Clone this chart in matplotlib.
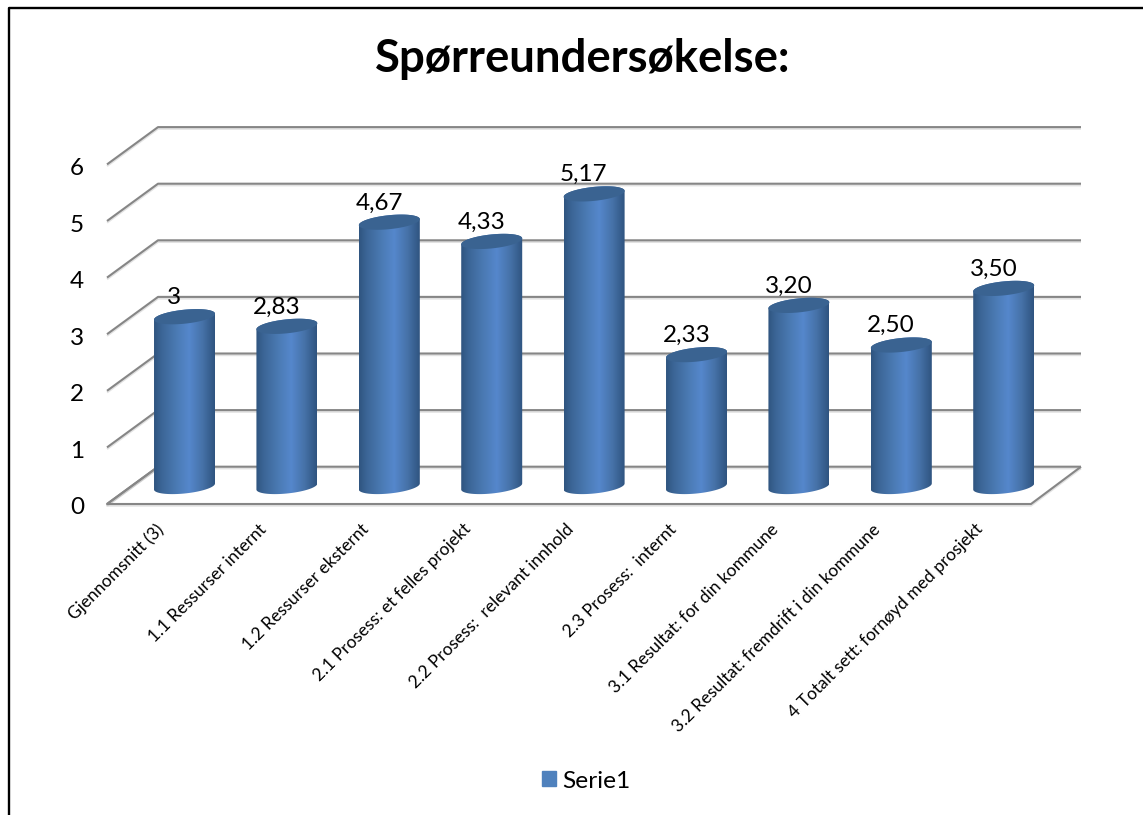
import matplotlib
matplotlib.use("Agg")
import matplotlib.pyplot as plt
import matplotlib.patheffects as pe
import numpy as np
from matplotlib.colors import LinearSegmentedColormap
from matplotlib.patches import Patch, PathPatch
from matplotlib.path import Path

plt.rcParams['font.family'] = ['Lato', 'DejaVu Sans']

# Data
categories = ['Gjennomsnitt (3)', '1.1 Ressurser internt', '1.2 Ressurser eksternt',
              '2.1 Prosess: et felles projekt', '2.2 Prosess:  relevant innhold',
              '2.3 Prosess:  internt', '3.1 Resultat: for din kommune',
              '3.2 Resultat: fremdrift i din kommune', '4 Totalt sett: fornøyd med prosjekt']
values = [3, 2.83, 4.67, 4.33, 5.17, 2.33, 3.20, 2.50, 3.50]
value_labels = ['3', '2,83', '4,67', '4,33', '5,17', '2,33', '3,20', '2,50', '3,50']
y_ticks = [0, 1, 2, 3, 4, 5, 6]

W, H = 1143, 815
X0, DX = 184.5, 102.4   # pixel of first category, pixels per category
Y0, DY = 486.5, 56.6    # pixel of value 0 at the bar foot, pixels per unit

fig = plt.figure(figsize=(W / 100, H / 100), dpi=100)
ax = fig.add_axes([0, 0, 1, 1])
ax.axis('off')

# Gridlines: floor and back wall
front_y, back_y = -17.5 / DY, 19.8 / DY
front_l, front_r = (107 - X0) / DX, (1031 - X0) / DX
back_l, back_r = (158 - X0) / DX, (1081 - X0) / DX
shadow = [pe.SimpleLineShadow(offset=(0, -1.2), shadow_color='#a0a0a0', alpha=0.3), pe.Normal()]
grid_style = dict(color='#868686', lw=1.5, solid_capstyle='butt', path_effects=shadow, zorder=1)

for v in y_ticks:
    ax.plot([front_l, back_l, back_r], [v + front_y, v + back_y, v + back_y], **grid_style)
    ax.text((77 - X0) / DX, v + front_y - 4 / DY, str(v), fontsize=17.5, ha='center', va='center')
ax.plot([back_l, front_l, front_r, back_r],
        [back_y, front_y, front_y, back_y], **grid_style)

# Cylinders
cmap = LinearSegmentedColormap.from_list('cyl', [(0, '#2F5580'), (0.12, '#3B6596'), (0.35, '#4A79B2'),
                                                 (0.58, '#5587CC'), (0.8, '#4672A8'), (1, '#2F5480')])
grad = np.linspace(0, 1, 128).reshape(1, -1)
half_w = 30.5 / DX
semi_h = 7.0 / DY
tilt = 3.0 / DY
t = np.linspace(0, 2 * np.pi, 80)

for i, v in enumerate(values):
    ex = i + half_w * np.cos(t)
    # upper half of the top edge, lower half of the foot
    top_x = ex[:41]
    top_y = v + semi_h * np.sin(t[:41]) + tilt * np.cos(t[:41])
    low_x = ex[40:]
    low_y = semi_h * np.sin(t[40:]) + tilt * np.cos(t[40:])
    pts = np.column_stack([np.r_[top_x, low_x], np.r_[top_y, low_y]])
    body = PathPatch(Path(np.vstack([pts, pts[0]])), fc='none', ec='none', zorder=2)
    ax.add_patch(body)
    im = ax.imshow(grad, cmap=cmap, aspect='auto', zorder=2,
                   extent=[i - half_w, i + half_w, -0.3, v + 0.3])
    im.set_clip_path(body)
    ax.fill(ex, v + semi_h * np.sin(t) + tilt * np.cos(t), color='#3A6391', lw=0, zorder=3)
    ax.text(i - 0.10, v + 0.34, value_labels[i], fontsize=17.5, ha='center', va='center', zorder=4)
    ax.text(i - 0.28, (Y0 - 521) / DY, categories[i], fontsize=12.5, rotation=45,
            rotation_mode='anchor', ha='right', va='top')

ax.set_xlim(-X0 / DX, (W - X0) / DX)
ax.set_ylim((Y0 - H) / DY, Y0 / DY)

fig.text(583 / W, 1 - 59 / H, 'Spørreundersøkelse:', fontsize=32.8, fontweight='bold', ha='center', va='center')

ax.legend(handles=[Patch(color='#4F81BD', label='Serie1')], loc='center', frameon=False,
          bbox_to_anchor=(586 / W, 1 - 781 / H), fontsize=17.6,
          handlelength=0.58, handleheight=0.58, handletextpad=0.25, borderpad=0)

# Outer frame of the chart: left and top only
frame = dict(color='black', lw=1.7, transform=fig.transFigure, clip_on=False)
ax.plot([8.5 / W, 8.5 / W, 1], [0, 1 - 8 / H, 1 - 8 / H], **frame)

fig.savefig('out.png', dpi=100)
